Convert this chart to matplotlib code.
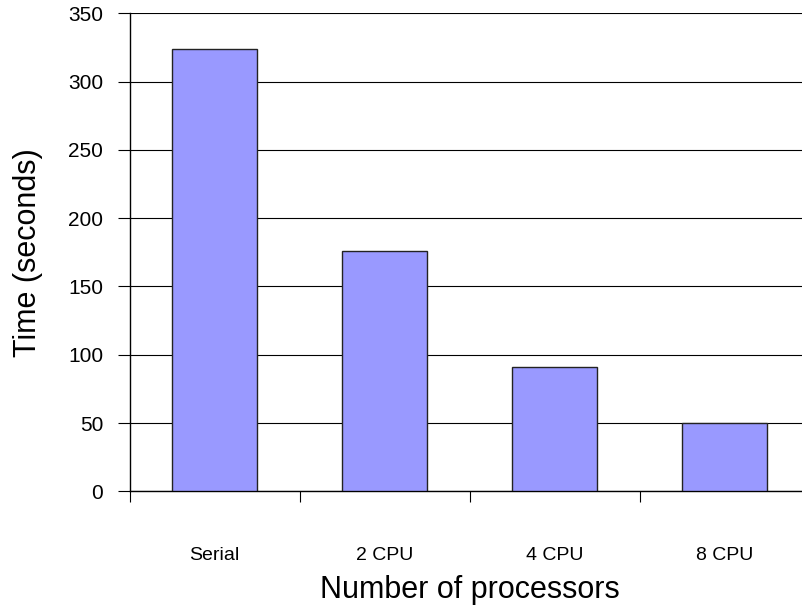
import matplotlib.pyplot as plt
import numpy as np

# Dades del gràfic
categories = ['Serial', '2 CPU', '4 CPU', '8 CPU']
times = [324, 176, 91, 50]
yticks = [0, 50, 100, 150, 200, 250, 300, 350]

plt.rcParams['font.family'] = ['Liberation Sans', 'DejaVu Sans']

fig = plt.figure(figsize=(8.02, 6.11), dpi=100)
# l'eix s'estén una mica més enllà de la vora dreta, com a l'original
ax = fig.add_axes([129.5 / 802, 119.7 / 611, 680 / 802, 478 / 611])

x = np.arange(len(categories))
ax.bar(x, times, width=0.5, color='#9999ff', edgecolor='#222222',
       linewidth=1.0, zorder=3)

ax.set_xlim(-0.5, len(categories) - 0.5)
ax.set_ylim(0, 350)
ax.set_yticks(yticks)
ax.yaxis.grid(True, color='black', linewidth=0.8, zorder=0)

# etiquetes al centre, marques a les fronteres entre categories
ax.set_xticks(x)
ax.set_xticklabels(categories, fontsize=14)
ax.set_xticks(np.arange(len(categories) + 1) - 0.5, minor=True)
ax.tick_params(axis='x', which='major', length=0, pad=40)
ax.tick_params(axis='x', which='minor', length=8, width=0.8, direction='out')
ax.tick_params(axis='y', length=9, width=0.8, direction='out',
               labelsize=15, pad=10)

for side in ['top', 'right']:
    ax.spines[side].set_visible(False)
ax.spines['left'].set_linewidth(1.0)
ax.spines['bottom'].set_linewidth(1.0)

ax.set_xlabel('Number of processors', fontsize=22, labelpad=8)
ax.set_ylabel('Time (seconds)', fontsize=22, labelpad=18)

fig.savefig('out.png', dpi=100)
